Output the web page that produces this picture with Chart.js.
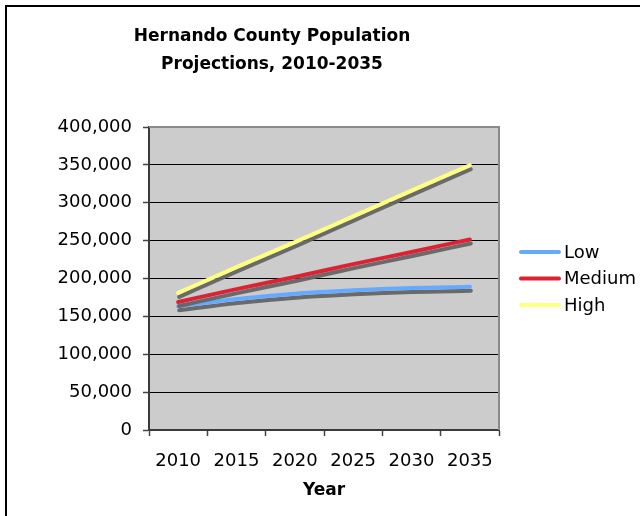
<!DOCTYPE html>
<html>
<head>
<meta charset="utf-8">
<script src="https://cdn.jsdelivr.net/npm/chart.js@4"></script>
<style>
  html, body { margin: 0; padding: 0; background: #fff; }
  #wrap { position: relative; width: 640px; height: 516px; overflow: hidden; }
  #frame { position: absolute; left: 5px; top: 5px; width: 700px; height: 600px;
           border-left: 2px solid #000; border-top: 2px solid #000; box-sizing: border-box; }
  canvas { position: absolute; left: 0; top: 0; }
</style>
</head>
<body>
<div id="wrap">
  <div id="frame"></div>
  <canvas id="c" width="640" height="516"></canvas>
</div>
<script>
const titleLines = ['Hernando County Population', 'Projections, 2010-2035'];
const xTitle = 'Year';
const years = ['2010', '2015', '2020', '2025', '2030', '2035'];
const seriesNames = ['Low', 'Medium', 'High'];
const lowValues = [163500, 173000, 180000, 184500, 187500, 189000];
const mediumValues = [169000, 186000, 202000, 219000, 235000, 251500];
const highValues = [181000, 215000, 248000, 282000, 316000, 349500];
const seriesColors = ['#66AAFF', '#DD2233', '#FFFF80'];

const FONT = '"DejaVu Sans", Verdana, sans-serif';

const plotDecor = {
  id: 'plotDecor',
  beforeDraw(chart) {
    const {ctx, chartArea: a} = chart;
    ctx.save();
    ctx.fillStyle = '#CCCCCC';
    ctx.fillRect(a.left, a.top, a.right - a.left, a.bottom - a.top);
    ctx.restore();
  },
  beforeDatasetDraw(chart) {
    const ctx = chart.ctx;
    ctx.save();
    ctx.shadowColor = 'rgba(100,100,100,0.95)';
    ctx.shadowOffsetX = 1;
    ctx.shadowOffsetY = 4;
    ctx.shadowBlur = 0;
  },
  afterDatasetDraw(chart) {
    chart.ctx.restore();
  },
  afterDraw(chart) {
    const {ctx, chartArea: a} = chart;
    ctx.save();
    ctx.strokeStyle = '#8a8a8a';
    ctx.lineWidth = 2;
    ctx.beginPath();
    ctx.moveTo(a.left, a.top);
    ctx.lineTo(a.right, a.top);
    ctx.lineTo(a.right, a.bottom);
    ctx.stroke();

    // title
    ctx.fillStyle = '#000';
    ctx.font = 'bold 17px ' + FONT;
    ctx.textAlign = 'center';
    ctx.textBaseline = 'middle';
    titleLines.forEach((t, i) => ctx.fillText(t, 272, 37 + i * 28));

    // legend
    ctx.font = '18px ' + FONT;
    ctx.textAlign = 'left';
    chart.data.datasets.forEach((ds, i) => {
      const y = 252 + i * 26.5;
      ctx.strokeStyle = ds.borderColor;
      ctx.lineWidth = 4;
      ctx.lineCap = 'round';
      ctx.beginPath();
      ctx.moveTo(521, y);
      ctx.lineTo(559, y);
      ctx.stroke();
      ctx.fillStyle = '#000';
      ctx.fillText(ds.label, 564, y + 1);
    });
    ctx.restore();
  }
};

new Chart(document.getElementById('c'), {
  type: 'line',
  data: {
    labels: years,
    datasets: [
      { label: seriesNames[0], data: lowValues, borderColor: seriesColors[0], order: 2 },
      { label: seriesNames[1], data: mediumValues, borderColor: seriesColors[1], order: 1 },
      { label: seriesNames[2], data: highValues, borderColor: seriesColors[2], order: 0 }
    ].map(d => Object.assign(d, { borderWidth: 4, pointRadius: 0, fill: false,
        cubicInterpolationMode: 'monotone', borderCapStyle: 'round', backgroundColor: d.borderColor }))
  },
  options: {
    responsive: false,
    animation: false,
    devicePixelRatio: 1,
    layout: { padding: { left: 0, top: 127, right: 141, bottom: 0 } },
    plugins: { legend: { display: false }, title: { display: false }, tooltip: { enabled: false } },
    scales: {
      x: {
        type: 'category',
        offset: true,
        grid: { offset: true, drawOnChartArea: false, drawTicks: true, tickLength: 6, tickColor: '#444', tickWidth: 1.5 },
        border: { display: true, color: '#3a3a3a', width: 2 },
        ticks: { color: '#000', font: { family: FONT, size: 18 }, padding: 15, maxRotation: 0, autoSkip: false },
        title: { display: true, text: xTitle, color: '#000', font: { family: FONT, size: 17, weight: 'bold' }, padding: { top: 0, bottom: 15 } },
        afterFit(scale) { scale.height = 86; }
      },
      y: {
        min: 0, max: 400000,
        grid: { color: '#000', lineWidth: 1, drawTicks: true, tickLength: 6, tickColor: '#444', tickWidth: 1.5 },
        border: { display: true, color: '#3a3a3a', width: 2 },
        ticks: { stepSize: 50000, color: '#000', font: { family: FONT, size: 18 }, padding: 11,
                 callback: v => v.toLocaleString('en-US') },
        afterFit(scale) { scale.width = 149; }
      }
    }
  },
  plugins: [plotDecor]
});
</script>
</body>
</html>
